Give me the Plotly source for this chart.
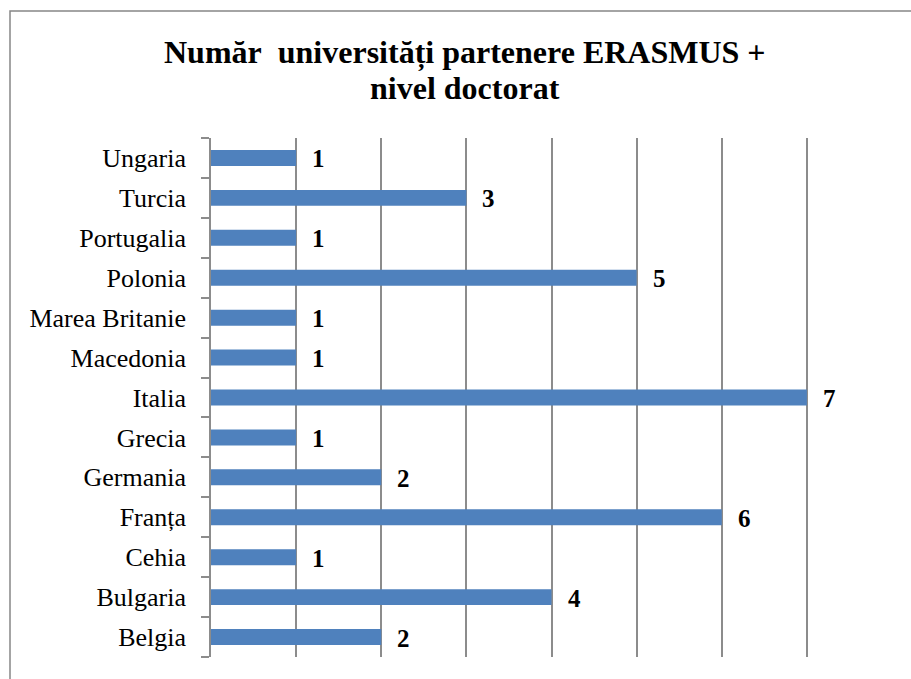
import plotly.graph_objects as go

countries = ["Belgia", "Bulgaria", "Cehia", "Franța", "Germania", "Grecia", "Italia",
             "Macedonia", "Marea Britanie", "Polonia", "Portugalia", "Turcia", "Ungaria"]
values = [2, 4, 1, 6, 2, 1, 7, 1, 1, 5, 1, 3, 1]
title_line1 = "Număr\u00a0 universități partenere ERASMUS +"
title_line2 = "nivel doctorat"

W, H = 911, 679
L, R, T, B = 211, 892, 138, 657
FONT = "Liberation Serif, Times New Roman, serif"

fig = go.Figure()
fig.add_trace(go.Bar(
    x=values, y=countries, orientation="h",
    marker=dict(color="#4F81BD", line=dict(width=0)),
    width=0.4,
    hoverinfo="x+y",
))

for c, v in zip(countries, values):
    fig.add_annotation(x=v, y=c, text=f"<b>{v}</b>", showarrow=False,
                       xanchor="left", xshift=14, yshift=-1,
                       font=dict(family=FONT, size=25, color="black"))

def px_x(p):
    return (p - L) / (R - L)

def px_y(p):
    return (B - p) / (B - T)

# outer frame (right and bottom edges run off the page)
fig.add_shape(type="rect", xref="paper", yref="paper",
              x0=px_x(10), x1=px_x(1000), y0=px_y(760), y1=px_y(11),
              line=dict(color="#868686", width=1.5), fillcolor="rgba(0,0,0,0)")

for txt, yc in ((title_line1, 52), (title_line2, 88)):
    fig.add_annotation(x=px_x(465), y=px_y(yc), xref="paper", yref="paper",
                       text=f"<b>{txt}</b>", showarrow=False,
                       xanchor="center", yanchor="middle",
                       font=dict(family=FONT, size=32, color="black"))

fig.update_layout(
    width=W, height=H,
    margin=dict(l=L, r=W - R, t=T, b=H - B),
    paper_bgcolor="white", plot_bgcolor="white",
    showlegend=False,
    xaxis=dict(range=[0, 8], dtick=1, showticklabels=False, showgrid=True,
               gridcolor="#8C8C8C", gridwidth=1.5, zeroline=False, showline=False,
               fixedrange=True),
    yaxis=dict(type="category", categoryorder="array", categoryarray=countries,
               showline=True, linecolor="#8C8C8C", linewidth=1.5,
               ticks="outside", ticklen=8, tickcolor="#8C8C8C", tickwidth=1.5,
               tickson="boundaries", ticklabelstandoff=18,
               tickfont=dict(family=FONT, size=26, color="black"),
               showgrid=False, zeroline=False, fixedrange=True),
)

fig.write_html("out.html", config={"displayModeBar": False},
               post_script="document.body.style.margin='0';document.body.style.overflow='hidden';")
